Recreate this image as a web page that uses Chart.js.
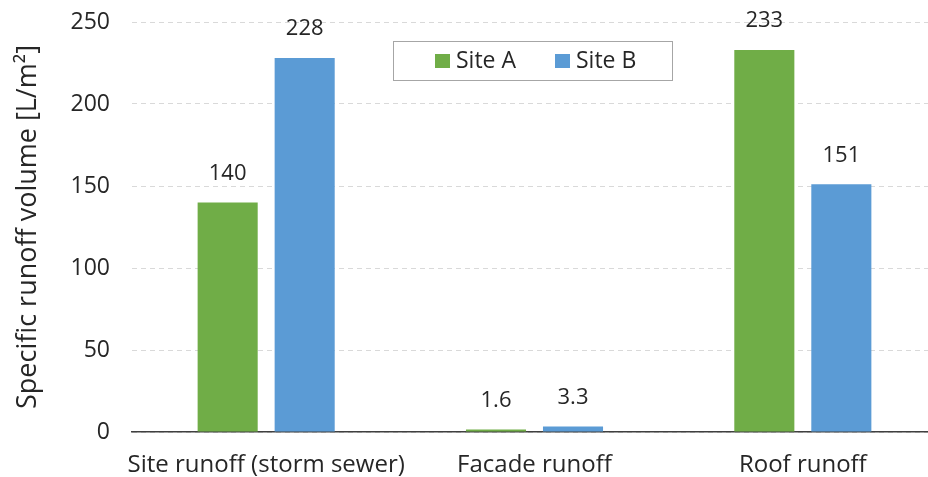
<!DOCTYPE html>
<html>
<head>
<meta charset="utf-8">
<script src="https://cdn.jsdelivr.net/npm/chart.js@4/dist/chart.umd.min.js"></script>
<style>
  html, body { margin: 0; padding: 0; background: #fff; overflow: hidden; }
</style>
</head>
<body>
<!-- um pouco mais largo que a janela: a área do gráfico original é cortada à direita -->
<canvas id="grafico" width="937" height="477"></canvas>
<script>
const categorias = ['Site runoff (storm sewer)', 'Facade runoff', 'Roof runoff'];
const siteA = [140, 1.6, 233];
const siteB = [228, 3.3, 151];
const rotulosA = ['140', '1.6', '233'];
const rotulosB = ['228', '3.3', '151'];
const fonte = "'Open Sans', 'Liberation Sans', sans-serif";

// etiquetas de valor acima das barras
const rotulosPlugin = {
  id: 'rotulos',
  afterDatasetsDraw(chart) {
    const ctx = chart.ctx;
    ctx.save();
    ctx.font = '22px ' + fonte;
    ctx.fillStyle = '#262626';
    ctx.textAlign = 'center';
    ctx.textBaseline = 'middle';
    chart.data.datasets.forEach((ds, i) => {
      chart.getDatasetMeta(i).data.forEach((bar, j) => {
        ctx.fillText(ds.rotulos[j], bar.x, bar.y - 29);
      });
    });
    ctx.restore();
  }
};

// legenda dentro da área do gráfico, com moldura
const legendaPlugin = {
  id: 'legendaCaixa',
  afterDraw(chart) {
    const ctx = chart.ctx;
    const x0 = 393, y0 = 41, w = 279, h = 39;
    ctx.save();
    ctx.fillStyle = '#fff';
    ctx.fillRect(x0, y0, w, h);
    ctx.strokeStyle = '#a6a6a6';
    ctx.lineWidth = 1;
    ctx.strokeRect(x0 + 0.5, y0 + 0.5, w, h);
    ctx.font = '23px ' + fonte;
    ctx.textBaseline = 'middle';
    ctx.textAlign = 'left';
    const posX = [435, 555];
    chart.data.datasets.forEach((ds, i) => {
      ctx.fillStyle = ds.backgroundColor;
      ctx.fillRect(posX[i], y0 + 13, 15, 14);
      ctx.fillStyle = '#262626';
      ctx.fillText(ds.label, posX[i] + 21, y0 + h / 2 + 1);
    });
    ctx.restore();
  }
};

new Chart(document.getElementById('grafico'), {
  type: 'bar',
  data: {
    labels: categorias,
    datasets: [
      { label: 'Site A', data: siteA, rotulos: rotulosA, backgroundColor: '#70AD47',
        barPercentage: 0.78, categoryPercentage: 0.574 },
      { label: 'Site B', data: siteB, rotulos: rotulosB, backgroundColor: '#5B9BD5',
        barPercentage: 0.78, categoryPercentage: 0.574 }
    ]
  },
  options: {
    responsive: false,
    animation: false,
    layout: { padding: 0 },
    plugins: {
      legend: { display: false },
      tooltip: { enabled: false }
    },
    scales: {
      x: {
        grid: { display: false, drawTicks: false },
        border: { display: true, color: '#404040', width: 1.5 },
        ticks: { color: '#262626', font: { size: 24, family: fonte }, padding: 19,
          maxRotation: 0, minRotation: 0, autoSkip: false },
        afterFit(s) { s.height = 45; s.paddingLeft = 0; s.paddingRight = 0; }
      },
      y: {
        min: 0,
        max: 250,
        ticks: { stepSize: 50, color: '#262626', font: { size: 23, family: fonte }, padding: 22 },
        grid: { color: '#d9d9d9', drawTicks: false },
        border: { display: false, dash: [5, 4] },
        title: { display: true, text: 'Specific runoff volume [L/m²]', color: '#262626',
          font: { size: 27, family: fonte }, padding: { top: 12, bottom: 0 } },
        afterFit(s) { s.width = 132; s.paddingTop = 22; s.paddingBottom = 0; }
      }
    }
  },
  plugins: [rotulosPlugin, legendaPlugin]
});
</script>
</body>
</html>
